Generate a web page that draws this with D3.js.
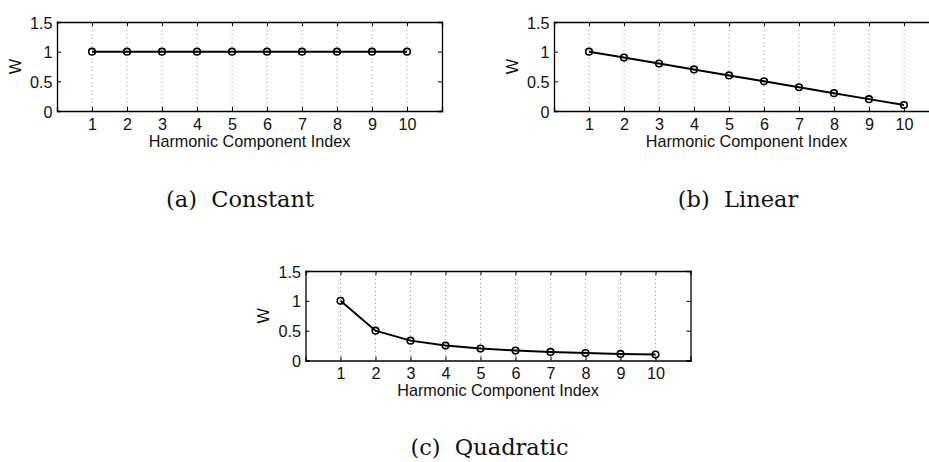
<!DOCTYPE html>
<html><head><meta charset="utf-8">
<script src="https://cdn.jsdelivr.net/npm/d3@7"></script>
<style>body{margin:0;background:#fff}svg{display:block}</style>
</head><body>
<svg id="c" width="929" height="462"></svg>
<script>
const harmonicIndex = [1,2,3,4,5,6,7,8,9,10];
const constantW = [1,1,1,1,1,1,1,1,1,1];
const linearW = [1,0.9,0.8,0.7,0.6,0.5,0.4,0.3,0.2,0.1];
const quadraticW = [1,0.5,0.333,0.25,0.2,0.167,0.143,0.125,0.111,0.1];
const yTicks = [0,0.5,1,1.5];
const yTickLabels = ["0","0.5","1","1.5"];
const xLabel = "Harmonic Component Index";
const yLabel = "W";
const captions = ["(a)  Constant","(b)  Linear","(c)  Quadratic"];

const svg = d3.select("#c");
const panels = [
  {vals: constantW, x0: 57, x1: 442, y0: 22, y1: 111, cap: captions[0], capX: 240, capY: 207},
  {vals: linearW, x0: 554, x1: 939, y0: 22, y1: 111, cap: captions[1], capX: 738, capY: 207},
  {vals: quadraticW, x0: 305.5, x1: 690.5, y0: 271, y1: 360.5, cap: captions[2], capX: 489.5, capY: 455}
];
const sans = "Liberation Sans, Arial, sans-serif";
const fs = 16.2;

panels.forEach(p => {
  const g = svg.append("g");
  const x = d3.scaleLinear().domain([0,11]).range([p.x0,p.x1]);
  const y = d3.scaleLinear().domain([0,1.5]).range([p.y1,p.y0]);
  // grid
  g.selectAll(".grid").data(harmonicIndex).enter().append("line")
    .attr("x1", d=>x(d)).attr("x2", d=>x(d)).attr("y1", p.y0).attr("y2", p.y1)
    .attr("stroke","#888").attr("stroke-width",0.8).attr("stroke-dasharray","1,3");
  // axes with inward ticks
  const tl = 4;
  const xb = d3.axisBottom(x).tickValues(harmonicIndex).tickSize(-tl).tickPadding(7).tickFormat(d3.format("d"));
  const xt = d3.axisTop(x).tickValues(harmonicIndex).tickSize(-tl).tickFormat("");
  const yl = d3.axisLeft(y).tickValues(yTicks).tickSize(-tl).tickPadding(4.5).tickFormat((d,i)=>yTickLabels[i]);
  const yr = d3.axisRight(y).tickValues(yTicks).tickSize(-tl).tickFormat("");
  const axB = g.append("g").attr("transform",`translate(0,${p.y1})`).call(xb);
  const axT = g.append("g").attr("transform",`translate(0,${p.y0})`).call(xt);
  const axL = g.append("g").attr("transform",`translate(${p.x0},0)`).call(yl);
  const axR = g.append("g").attr("transform",`translate(${p.x1},0)`).call(yr);
  [axB,axT,axL,axR].forEach(a=>{
    a.select(".domain").attr("stroke","#000").attr("stroke-width",1.3);
    a.selectAll(".tick line").attr("stroke","#000").attr("stroke-width",1);
    a.selectAll("text").attr("font-family",sans).attr("font-size",fs).attr("fill","#111");
  });
  axL.selectAll("text").attr("dy","0.38em");
  // line
  const line = d3.line().x((d,i)=>x(harmonicIndex[i])).y(d=>y(d));
  g.append("path").datum(p.vals).attr("d",line).attr("fill","none")
    .attr("stroke","#000").attr("stroke-width",2);
  g.selectAll(".pt").data(p.vals).enter().append("circle")
    .attr("cx",(d,i)=>x(harmonicIndex[i])).attr("cy",d=>y(d)).attr("r",3.3)
    .attr("fill","none").attr("stroke","#000").attr("stroke-width",1.6);
  // labels
  g.append("text").attr("x",(p.x0+p.x1)/2).attr("y",p.y1+35.7)
    .attr("text-anchor","middle").attr("font-family",sans).attr("font-size",fs).attr("fill","#111").text(xLabel);
  g.append("text").attr("transform",`translate(${p.x0-36.3},${(p.y0+p.y1)/2}) rotate(-90)`)
    .attr("text-anchor","middle").attr("font-family",sans).attr("font-size",fs).attr("fill","#111").text(yLabel);
  g.append("text").attr("x",p.capX).attr("y",p.capY).attr("text-anchor","middle")
    .attr("font-family","DejaVu Serif, serif").attr("font-size",22.5).attr("fill","#111")
    .style("white-space","pre").text(p.cap);
});
</script>
</body></html>
